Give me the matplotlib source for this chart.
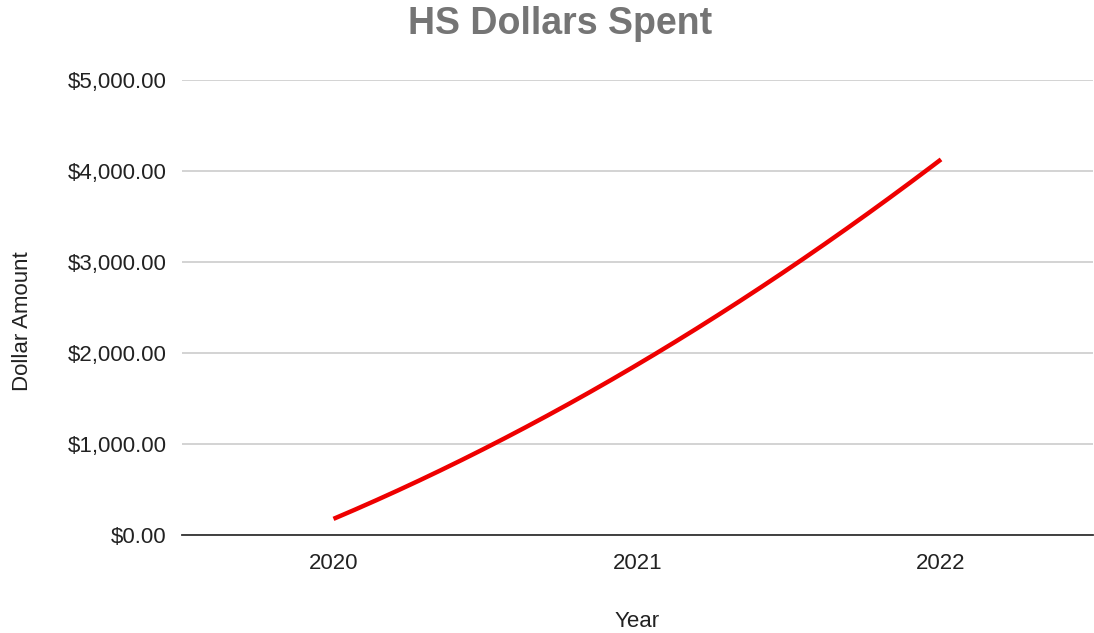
import matplotlib.pyplot as plt
import numpy as np
from matplotlib.ticker import FuncFormatter

plt.rcParams['font.family'] = ['Liberation Sans', 'DejaVu Sans']

years = ['2020', '2021', '2022']
dollars = [176, 1870, 4125]

fig = plt.figure(figsize=(10.94, 6.33), dpi=100)
ax = fig.add_axes([0.166, 0.155, 0.833, 0.719])

# smooth curve through the three points (quadratic, like the sheet's smoothed line)
xi = np.arange(len(years))
coef = np.polyfit(xi, dollars, 2)
xs = np.linspace(0, len(years) - 1, 200)
ax.plot(xs, np.polyval(coef, xs), color='#ee0000', linewidth=3.2, solid_capstyle='butt')

ax.set_xlim(-0.5, len(years) - 0.5)
ax.set_ylim(0, 5000)
ax.set_xticks(xi)
ax.set_xticklabels(years)
ax.set_yticks(np.arange(0, 5001, 1000))
ax.yaxis.set_major_formatter(FuncFormatter(lambda v, p: '${:,.2f}'.format(v)))
ax.grid(axis='y', color='#cccccc', linewidth=1.2)
ax.set_axisbelow(True)
for s in ['top', 'right', 'left']:
    ax.spines[s].set_visible(False)
ax.spines['bottom'].set_color('#333333')
ax.spines['bottom'].set_linewidth(1.3)
ax.tick_params(length=0, labelsize=16, colors='#222222', pad=11)
ax.tick_params(axis='x', pad=13)

ax.set_xlabel('Year', fontsize=16, color='#222222', labelpad=27)
ax.set_ylabel('Dollar Amount', fontsize=16, color='#222222')
ax.yaxis.set_label_coords(-0.163, 0.47)
fig.suptitle('HS Dollars Spent', x=0.512, y=0.99, fontsize=27, fontweight='bold', color='#757575')

fig.savefig('out.png', dpi=100)
